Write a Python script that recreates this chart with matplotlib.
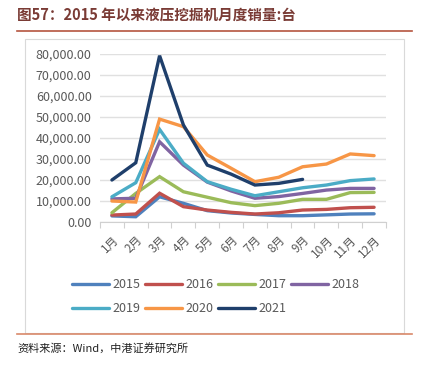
import matplotlib
matplotlib.use("Agg")
import matplotlib.pyplot as plt
from matplotlib.patches import Rectangle
from matplotlib.lines import Line2D
from matplotlib.ticker import FuncFormatter

plt.rcParams['font.family'] = ['Noto Sans CJK SC', 'DejaVu Sans']

months = ["1月", "2月", "3月", "4月", "5月", "6月", "7月", "8月", "9月", "10月", "11月", "12月"]
years = ["2015", "2016", "2017", "2018", "2019", "2020", "2021"]
s2015 = [2900, 2500, 12000, 8900, 5400, 4300, 3600, 3000, 3000, 3400, 3800, 3900]
s2016 = [3300, 3800, 13700, 7300, 5700, 4600, 3800, 4400, 5700, 6000, 6800, 7000]
s2017 = [4400, 13600, 21600, 14400, 11800, 9200, 7800, 8900, 10800, 10800, 14000, 14100]
s2018 = [11000, 11300, 38200, 27100, 19000, 14800, 11300, 12100, 13600, 15200, 16000, 16000]
s2019 = [12000, 18700, 44100, 28000, 19200, 15600, 12500, 14400, 16300, 17600, 19700, 20500]
s2020 = [10000, 9500, 49000, 45400, 31900, 25600, 19200, 21300, 26300, 27600, 32400, 31600]
s2021 = [20000, 28200, 79200, 46200, 27100, 22800, 17600, 18400, 20300]
series = [s2015, s2016, s2017, s2018, s2019, s2020, s2021]
colors = ["#4F81BD", "#C0504D", "#9BBB59", "#8064A2", "#4BACC6", "#F79646", "#1F3F6B"]

fig = plt.figure(figsize=(4.27, 3.70), dpi=100)

# title
fig.text(17/427, 1 - 15/370, "图57：2015 年以来液压挖掘机月度销量:台", fontsize=10.5,
         fontweight='bold', color='#7A3B35', va='center', ha='left')
fig.add_artist(Line2D([17/427, 412/427], [1 - 31/370, 1 - 31/370], color='#B5553F', lw=1.2))
fig.add_artist(Line2D([17/427, 412/427], [1 - 334/370, 1 - 334/370], color='#D9896A', lw=1.2))
fig.add_artist(Rectangle((25/427, 1 - 333/370), (404-25)/427, (333-39)/370,
                         fill=False, edgecolor='#D9D9D9', lw=0.8))
fig.text(17/427, 1 - 348/370, "资料来源：Wind，中港证券研究所", fontsize=8,
         style='italic', color='#222222', va='center', ha='left')

ax = fig.add_axes([100/427, 1 - 222/370, (386-100)/427, (222-54)/370])
lines = []
for s, c, y in zip(series, colors, years):
    xs = [i + 0.5 for i in range(len(s))]
    ln, = ax.plot(xs, s, color=c, lw=2.4, solid_capstyle='round', solid_joinstyle='miter', label=y)
    lines.append(ln)

ax.set_xlim(0, 12)
ax.set_ylim(0, 80000)
ax.set_yticks(range(0, 80001, 10000))
ax.yaxis.set_major_formatter(FuncFormatter(lambda v, p: f"{v:,.2f}"))
ax.grid(axis='y', color='#E0E0E0', lw=1)
ax.set_axisbelow(True)
for sp in ['left', 'right', 'top']:
    ax.spines[sp].set_visible(False)
ax.spines['bottom'].set_color('#D0D0D0')
ax.tick_params(axis='y', length=0, labelsize=9, labelcolor='#595959', pad=6)
ax.set_xticks(range(13))
ax.set_xticklabels([])
ax.tick_params(axis='x', which='major', length=4, color='#D0D0D0')
ax.set_xticks([i + 0.5 for i in range(12)], minor=True)
ax.set_xticklabels(months, minor=True, rotation=45, ha='right', rotation_mode='anchor')
ax.tick_params(axis='x', which='minor', length=0, labelsize=8.5, labelcolor='#595959', pad=8)

order = [0, 4, 1, 5, 2, 6, 3]
fig.legend([lines[i] for i in order], [years[i] for i in order],
           loc='upper center', bbox_to_anchor=(0.505, 1 - 272/370), ncol=4, frameon=False,
           fontsize=9, labelcolor='#595959', handlelength=3.0, handletextpad=0.3,
           columnspacing=0.3, borderpad=0, labelspacing=0.9)

fig.savefig("out.png", dpi=100)
